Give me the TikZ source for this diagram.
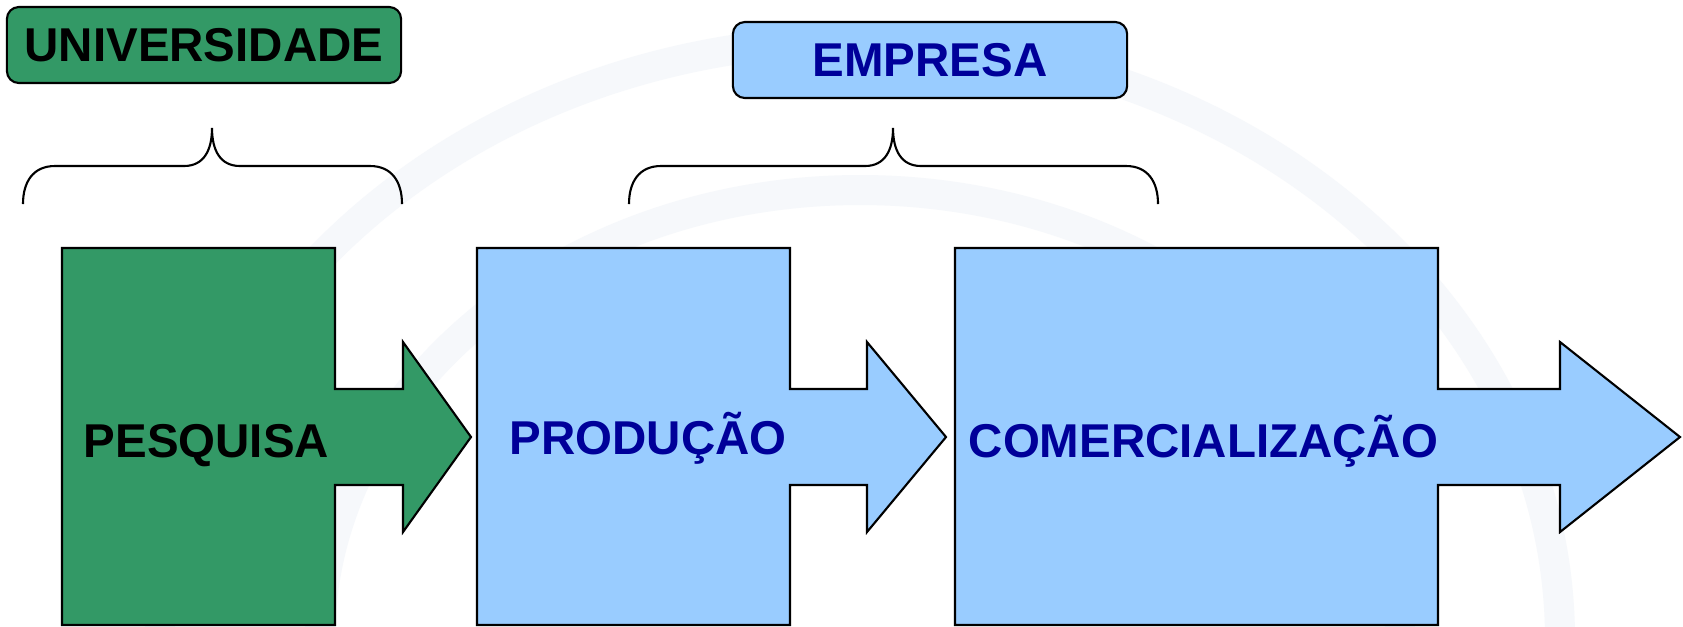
\documentclass[tikz,border=0pt]{standalone}
\usepackage{fontspec}
\setmainfont{Liberation Sans}

\definecolor{verde}{HTML}{339966}
\definecolor{azulclaro}{HTML}{99CCFF}
\definecolor{azulescuro}{HTML}{000099}
\definecolor{fundo}{HTML}{F6F8FB}

% block with a arrow leaving its right side: left, body right, head base, tip, fill
\newcommand{\etapa}[5]{%
  \filldraw[fill=#5, draw=black, line width=0.6pt, line join=miter]
    (#1,248) -- (#2,248) -- (#2,389) -- (#3,389) -- (#3,342) -- (#4,437)
    -- (#3,532) -- (#3,485) -- (#2,485) -- (#2,625) -- (#1,625) -- cycle;}

% curly brace: left end, tip, right end
\newcommand{\chave}[3]{%
  \draw[line width=0.6pt] (#1,204) .. controls (#1,182) and (#1+10,166) .. (#1+32,166)
    -- (#2-28,166) .. controls (#2-8,166) and (#2,150) .. (#2,128)
    .. controls (#2,150) and (#2+8,166) .. (#2+28,166)
    -- (#3-32,166) .. controls (#3-10,166) and (#3,182) .. (#3,204);}

\begin{document}
\begin{tikzpicture}[x=0.01cm, y=-0.01cm,
    rotulo/.style={font=\fontsize{13.5}{16}\selectfont\bfseries, inner sep=0pt},
    caixa/.style={rotulo, draw=black, line width=0.6pt, rounded corners=0.12cm,
      minimum width=3.94cm, minimum height=0.76cm}]
    \useasboundingbox[fill=white] (0,0) rectangle (1683,626);

    % faint background swirl
    \begin{scope}[fundo, line width=0.3cm]
        \draw (860,640) ellipse [x radius=700, y radius=600];
        \draw (860,640) ellipse [x radius=540, y radius=450];
    \end{scope}

    % top labels
    \node[caixa, fill=verde, text=black] (universidade) at (204,45) {UNIVERSIDADE};
    \node[caixa, fill=azulclaro, text=azulescuro] (empresa) at (930,60) {EMPRESA};

    % braces
    \chave{23}{212}{402}
    \chave{629}{893}{1158}

    % the three stages
    \etapa{62}{335}{403}{471}{verde}
    \etapa{477}{790}{867}{946}{azulclaro}
    \etapa{955}{1438}{1560}{1680}{azulclaro}

    \node[rotulo, anchor=base west, text=black] (pesquisa) at (83,457) {PESQUISA};
    \node[rotulo, anchor=base west, text=azulescuro] (producao) at (509,454) {PRODUÇÃO};
    \node[rotulo, anchor=base west, text=azulescuro] (comercializacao) at (968,457) {COMERCIALIZAÇÃO};
\end{tikzpicture}
\end{document}
